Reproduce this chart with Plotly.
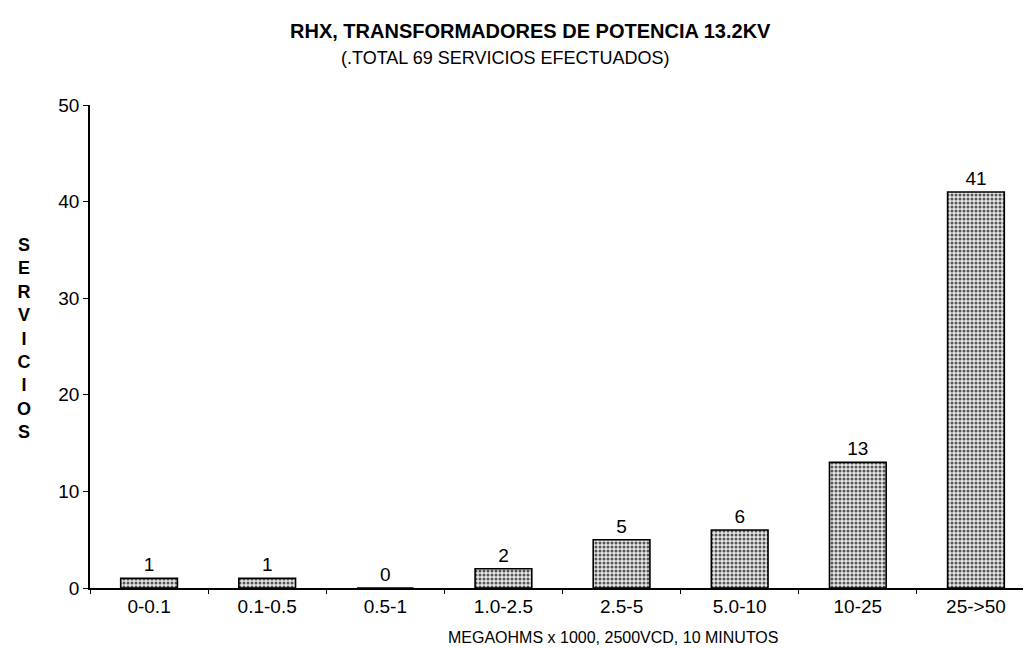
import plotly.graph_objects as go

categories = ["0-0.1", "0.1-0.5", "0.5-1", "1.0-2.5", "2.5-5", "5.0-10", "10-25", "25->50"]
servicios = [1, 1, 0, 2, 5, 6, 13, 41]
y_ticks = [0, 10, 20, 30, 40, 50]

W, H = 1031, 648
L, R, T, B = 82, 4, 97, 68

def px_x(p):
    return (p - L) / (W - L - R)

def px_y(p):
    return (H - B - p) / (H - T - B)

FONT = "Liberation Sans, Arial, sans-serif"

fig = go.Figure()
fig.add_trace(go.Bar(
    x=categories, y=servicios,
    width=0.48,
    text=[str(v) for v in servicios],
    textposition="outside",
    textfont=dict(family=FONT, size=19, color="black"),
    cliponaxis=False,
    marker=dict(
        color="white",
        line=dict(color="black", width=1.6),
        pattern=dict(shape=".", fgcolor="#555555", bgcolor="#e6e6e6",
                     size=4, solidity=0.45, fillmode="replace"),
    ),
    showlegend=False,
))

fig.update_layout(
    width=W, height=H,
    margin=dict(l=L, r=R, t=T, b=B, pad=0),
    paper_bgcolor="white", plot_bgcolor="white",
    font=dict(family=FONT, color="black"),
    xaxis=dict(
        type="category",
        showline=True, linecolor="black", linewidth=1.5,
        showgrid=False, zeroline=False,
        ticks="outside", tickson="boundaries", ticklen=4, tickcolor="black",
        tickfont=dict(family=FONT, size=19, color="black"),
        range=[-0.5, len(categories) - 0.5],
    ),
    yaxis=dict(
        range=[0, 50],
        tickvals=y_ticks,
        showline=True, linecolor="black", linewidth=1.5,
        showgrid=False, zeroline=False,
        ticks="outside", ticklen=5, tickcolor="black",
        tickfont=dict(family=FONT, size=19, color="black"),
    ),
    bargap=0.52,
)

annotations = [
    dict(text="<b>RHX, TRANSFORMADORES DE POTENCIA 13.2KV</b>",
         x=px_x(522), y=px_y(23), font=dict(size=20)),
    dict(text="(.TOTAL 69 SERVICIOS EFECTUADOS)",
         x=px_x(497), y=px_y(50), font=dict(size=18)),
    dict(text="MEGAOHMS x 1000, 2500VCD, 10 MINUTOS",
         x=px_x(605), y=px_y(629), font=dict(size=16)),
    dict(text="<b>" + "<br>".join(list("SERVICIOS")) + "</b>",
         x=px_x(16), y=px_y(330), font=dict(size=18)),
]
for a in annotations:
    a.update(xref="paper", yref="paper", showarrow=False,
             xanchor="center", yanchor="middle")
    a["font"].update(family=FONT, color="black")
fig.update_layout(annotations=annotations)

fig.write_html("out.html")
